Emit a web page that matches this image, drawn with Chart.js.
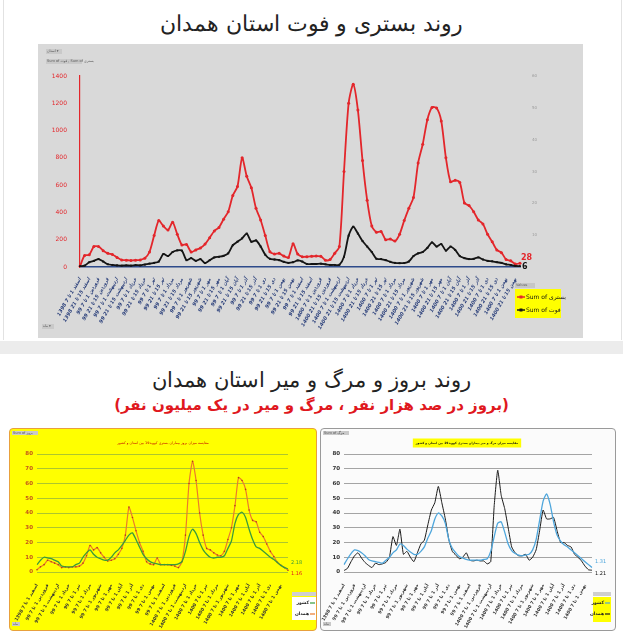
<!DOCTYPE html>
<html><head><meta charset="utf-8">
<script src="https://cdn.jsdelivr.net/npm/chart.js@4.4.1/dist/chart.umd.min.js"></script>
<style>
html,body{margin:0;padding:0;background:#fff;}
body{width:623px;height:640px;position:relative;overflow:hidden;font-family:"DejaVu Sans",sans-serif;}
.t{position:absolute;left:0;width:623px;text-align:center;direction:rtl;white-space:nowrap;line-height:1;}
#t1{top:13px;font-size:22px;color:#222;font-weight:300;}
#t2{top:370px;font-size:21px;color:#222;font-weight:300;}
#t3{top:398px;font-size:15px;color:#e0181e;font-weight:bold;}
#band{position:absolute;left:0;top:341px;width:623px;height:13px;background:#ececec;}
#frame{position:absolute;left:3px;top:0;width:617px;height:340px;border-left:1px solid #e2e2e2;border-right:1px solid #e2e2e2;}
#boxL{position:absolute;left:9px;top:428px;width:308px;height:203px;background:#ffff00;border:1.5px solid #e8a03c;border-radius:4px;box-sizing:border-box;}
#boxR{position:absolute;left:320px;top:428px;width:296px;height:203px;background:#fbfbfb;border:1.5px solid #9a9a9a;border-radius:4px;box-sizing:border-box;}
canvas{position:absolute;display:block;}
#c1{left:38px;top:44px;background:#d9d9d9;}
#c2{left:9px;top:428px;}
#c3{left:320px;top:428px;}
</style>
</head><body>
<div id="frame"></div>
<div class="t" id="t1">روند بستری و فوت استان همدان</div>
<div id="band"></div>
<div class="t" id="t2">روند بروز و مرگ و میر استان همدان</div>
<div class="t" id="t3">(بروز در صد هزار نفر ، مرگ و میر در یک میلیون نفر)</div>
<div id="boxL"></div>
<div id="boxR"></div>
<canvas id="c1" width="545" height="294"></canvas>
<canvas id="c2" width="308" height="203"></canvas>
<canvas id="c3" width="296" height="203"></canvas>
<script>
// ---- tick label parts ----
const monthNames = ['فروردین','اردیبهشت','خرداد','تیر','مرداد','شهریور','مهر','آبان','آذر','دی','بهمن','اسفند'];
const weekRanges = ['1 تا 7','8 تا 14','15 تا 21','22 تا 29'];
const yearNames = {1398:'1398',1399:'99',1400:'1400'};

// ---- top chart: weekly hospitalized (بستری) and deaths (فوت) ----
const hospitalized = [5,85,90,150,150,120,100,92,70,52, 50,48,50,52,65,110,230,340,300,271,
 328,240,162,165,110,125,140,168,215,264, 290,350,405,525,590,800,665,580,430,345,
 230,112,95,100,80,70,170,95,75,76, 78,80,78,50,55,100,150,700,1200,1340,
 1150,780,490,300,255,260,200,205,190,240, 340,430,510,762,900,1080,1170,1165,1070,800,
 625,635,620,470,450,405,345,315,240,185, 125,105,55,45,22,28];
const deaths = [5,10,35,45,58,40,20,15,12,10, 12,10,14,12,18,25,30,40,95,80,
 110,122,120,50,65,45,58,29,50,70, 75,82,100,160,185,210,245,185,195,150,
 90,60,55,50,38,30,35,48,40,22, 22,22,24,20,15,15,16,75,230,295,
 245,190,150,110,60,58,50,38,30,28, 29,40,80,100,110,140,180,150,168,120,
 150,125,80,65,58,60,70,55,45,42, 35,30,20,15,8,6];

// ---- bottom charts: incidence (per 100k) and mortality (per 1M) ----
const incidenceHamedan = [1.5,3.5,5,8,7,6,5,3,3.5,3, 3.5,3.5,4,6,11,18,15,16.5,13,10,
 7.5,8,9,12,16,25,44,37,28,20, 14,7,5.5,5,9.5,5,5,5,4.5,4,
 3,7,25,60,75,62,40,25,16,15, 13,11.5,11,14,22,30,45,64,62,56,
 42,35,34,27,24,19,14,10.5,6.5,4.5, 3,1.16];
const incidenceCountry = [5,8,10,9.5,9,8,7,4,3.5,3.5, 3.5,5,6,10,13,15,12,10,9,8,
 8,10,13,15,18,21.5,25,26.5,22,17, 12,9,7,6,5.5,5,5,5,5,5,
 5.5,7,14,24,29,26,20,15,12,10, 9.5,10,10,11,16,21,33,39,40.5,37,
 29,22,17,16,14,12,10,8.5,6.5,4.5, 3,2.18];
const mortalityHamedan = [1,2.5,7,11,13,9.5,6.5,4.5,3,6, 5,5.5,6.5,10,24,18,29,12,14,10,
 7,13,19,21.6,32,42,47,58,47,36, 22,14,11.5,9,10,13,8,7.5,8,7.5,
 7.5,5.5,7,45,69,52,43,30,17,13, 11,11,12,8,10,15,28,42,36,36,
 37,28,20,20,18,17,12,10,7.5,4, 1.5,1.21];
const mortalityCountry = [5,9,12.5,15,14.5,13,11,8.5,7.5,7, 6.5,6,8,10,13,15,19,18,15.5,13.5,
 12,12,14,17,23,28,36,40,38,33, 22,16,13,10.5,9.5,8.5,8,8,8,8,
 8.5,9,14,24,33,34,27,19,14.5,12.5, 11.5,11,11.5,12,15,22,35,48,53,46,
 34,25,21,18.5,17,15,13,11,9,7, 5,3];
const endLabelsInc = ['2.18','1.16'];
const endLabelsMort = ['1.31','1.21'];

// build week labels
const weekLabels = [];
{ let yr = 1398, m = 11;
  while (weekLabels.length < hospitalized.length) {
    for (const w of weekRanges) { if (weekLabels.length < hospitalized.length) weekLabels.push(yearNames[yr] + ' ' + monthNames[m] + ' ' + w); }
    m++; if (m === 12) { m = 0; yr++; }
  } }
const bottomLabels = incidenceHamedan.map((_, i) => weekLabels[Math.round(i * (weekLabels.length - 1) / (incidenceHamedan.length - 1))]);

const RED = '#e3262b', BLK = '#141414';
const FF = '"DejaVu Sans", sans-serif';

function tag(ctx, x, y, w, h, txt) {
  ctx.fillStyle = '#c9c9c9'; ctx.fillRect(x, y, w, h);
  ctx.fillStyle = '#555'; ctx.font = '3.5px ' + FF; ctx.textAlign = 'left'; ctx.textBaseline = 'middle';
  ctx.fillText(txt, x + 1, y + h / 2);
}

const topDecor = {
  id: 'topDecor',
  afterDraw(chart) {
    const { ctx, scales: { x, y } } = chart;
    const n = hospitalized.length - 1, px = x.getPixelForValue(n);
    ctx.save();
    ctx.font = 'bold 8px ' + FF; ctx.textAlign = 'left'; ctx.textBaseline = 'middle';
    ctx.fillStyle = RED; ctx.fillText(String(hospitalized[n]), px + 1, y.getPixelForValue(hospitalized[n]) - 5);
    ctx.fillStyle = BLK; ctx.fillText(String(deaths[n]), px + 2, y.getPixelForValue(deaths[n]) + 1);
    // pivot field buttons
    tag(ctx, 8, 5, 16, 5, 'استان ▾');
    tag(ctx, 8, 15, 36, 5, 'Sum of فوت , Sum of بستری');
    tag(ctx, 4, 280, 12, 5, 'ماه ▾');
    // legend
    const lx = 477, ly = 245, lw = 46, lh = 29;
    ctx.fillStyle = '#c6c6c6'; ctx.fillRect(lx, ly - 6, 20, 5);
    ctx.fillStyle = '#666'; ctx.font = '3.5px ' + FF; ctx.fillText('Values', lx + 1, ly - 3.5);
    ctx.fillStyle = '#ffff00'; ctx.fillRect(lx, ly, lw, lh);
    const items = chart.data.datasets;
    items.forEach((ds, i) => {
      const yy = ly + 8 + i * 13;
      ctx.strokeStyle = ds.borderColor; ctx.lineWidth = 1.5;
      ctx.beginPath(); ctx.moveTo(lx + 2, yy); ctx.lineTo(lx + 10, yy); ctx.stroke();
      ctx.fillStyle = ds.borderColor; ctx.fillRect(lx + 4.5, yy - 1.5, 3, 3);
      ctx.font = '6px ' + FF; ctx.fillStyle = BLK; ctx.textAlign = 'left';
      ctx.fillText(ds.label, lx + 11, yy);
    });
    ctx.restore();
  }
};

new Chart(document.getElementById('c1'), {
  type: 'line',
  data: { labels: weekLabels, datasets: [
    { label: 'Sum of بستری', data: hospitalized, borderColor: RED, backgroundColor: RED, borderWidth: 1.8,
      pointRadius: 1.5, pointStyle: 'circle', pointBorderWidth: 0, tension: 0.25, order: 1 },
    { label: 'Sum of فوت', data: deaths, borderColor: BLK, backgroundColor: BLK, borderWidth: 1.8,
      pointRadius: 1.4, pointStyle: 'rect', pointBorderWidth: 0, tension: 0.25, order: 0 }
  ]},
  options: {
    responsive: false, animation: false,
    layout: { padding: { top: 32, left: 0, right: 0, bottom: 0 } },
    plugins: { legend: { display: false }, tooltip: { enabled: false } },
    scales: {
      x: { grid: { display: false }, border: { display: true, color: '#2d4a8a', width: 1.5 },
        ticks: { autoSkip: false, minRotation: 60, maxRotation: 60, padding: 2,
          font: { family: FF, size: 5, weight: 'bold', style: 'italic' }, color: '#2a3f7a',
          callback: (v, i) => i % 2 === 0 ? weekLabels[i] : '' },
        afterFit: s => { s.height = 71; } },
      y: { min: 0, max: 1400, ticks: { stepSize: 200, color: RED, font: { family: FF, size: 6 }, padding: 5, callback: v => String(v) },
        grid: { display: false }, border: { color: RED, width: 1.2 }, afterFit: s => { s.width = 42; } },
      y2: { position: 'right', min: 0, max: 60,
        ticks: { stepSize: 10, color: '#9a9a9a', font: { family: FF, size: 4 }, padding: 4, callback: v => v === 0 ? '' : String(v) },
        grid: { display: false }, border: { display: false }, afterFit: s => { s.width = 63; } }
    }
  },
  plugins: [topDecor]
});

function bottomDecor(opt) {
  return {
    id: 'bd' + opt.key,
    afterDraw(chart) {
      const { ctx, scales: { x, y } } = chart;
      const ds = chart.data.datasets;
      const n = ds[0].data.length - 1, px = x.getPixelForValue(n);
      ctx.save();
      // title
      ctx.font = opt.titleFont + ' ' + FF; ctx.textAlign = 'center'; ctx.textBaseline = 'middle';
      const tw = ctx.measureText(opt.title).width;
      if (opt.titleBg) { ctx.fillStyle = opt.titleBg; ctx.fillRect(opt.tx - tw / 2 - 3, opt.ty - 4.5, tw + 6, 9); }
      ctx.fillStyle = opt.titleColor; ctx.fillText(opt.title, opt.tx, opt.ty);
      // end labels
      ctx.font = '5px ' + FF; ctx.textAlign = 'left';
      ctx.fillStyle = ds[0].borderColor; ctx.fillText(opt.ends[0], px + 3, y.getPixelForValue(ds[0].data[n]) - 6);
      ctx.fillStyle = opt.end2Color; ctx.fillText(opt.ends[1], px + 3, y.getPixelForValue(ds[1].data[n]) + 3);
      // tags
      tag(ctx, 3, 3, 26, 4, opt.tagText);
      tag(ctx, 3, 194, 8, 4, 'ماه');
      // legend
      const L = opt.legend;
      ctx.fillStyle = '#cfcfcf'; ctx.fillRect(L.x, L.y - 5, L.w, 4);
      ctx.fillStyle = L.bg; ctx.fillRect(L.x, L.y, L.w, L.h);
      ds.forEach((d, i) => {
        const yy = L.y + 6 + i * 11;
        ctx.font = 'bold 4.5px ' + FF; ctx.fillStyle = '#222'; ctx.textAlign = 'right';
        ctx.fillText(d.label, L.x + L.w - 7, yy);
        ctx.strokeStyle = d.borderColor; ctx.lineWidth = 1.2;
        ctx.beginPath(); ctx.moveTo(L.x + L.w - 6, yy); ctx.lineTo(L.x + L.w - 1, yy); ctx.stroke();
      });
      ctx.restore();
    }
  };
}

function bottomOptions(gridColor, tickColor, rightPad) {
  return {
    responsive: false, animation: false,
    layout: { padding: { top: 26, right: rightPad, left: 0, bottom: 0 } },
    plugins: { legend: { display: false }, tooltip: { enabled: false } },
    scales: {
      x: { grid: { display: false }, border: { display: false },
        ticks: { autoSkip: false, minRotation: 60, maxRotation: 60, padding: 3,
          font: { family: FF, size: 4.5, weight: 'bold' }, color: '#333',
          callback: (v, i) => i % 3 === 0 ? bottomLabels[i] : '' },
        afterFit: s => { s.height = 59; } },
      y: { min: 0, max: 80, ticks: { stepSize: 10, color: tickColor, font: { family: FF, size: 5.5, weight: 'bold' }, padding: 4 },
        grid: { color: gridColor, lineWidth: 0.8, drawTicks: false }, border: { display: false } }
    }
  };
}

const optL = bottomOptions('#98b83a', '#c4561a', 29);
optL.scales.y.afterFit = s => { s.width = 28; };
new Chart(document.getElementById('c2'), {
  type: 'line',
  data: { labels: bottomLabels, datasets: [
    { label: 'کشور', data: incidenceCountry, borderColor: '#3a9b3a', borderWidth: 1.3, pointRadius: 0, tension: 0.2 },
    { label: 'همدان', data: incidenceHamedan, borderColor: '#ec7b2a', borderWidth: 1.2, pointRadius: 0.8,
      pointBackgroundColor: '#b5401a', pointBorderWidth: 0, tension: 0.2 }
  ]},
  options: optL,
  plugins: [bottomDecor({ key: 'L', title: 'مقایسه میزان بروز بیماران بستری کووید19 بین استان و کشور',
    titleFont: '3.5px', tx: 154, ty: 15, titleColor: '#c00000', titleBg: null, ends: endLabelsInc, end2Color: '#e0181e',
    tagText: 'Sum of بروز', legend: { x: 283, y: 169, w: 24, h: 23, bg: '#ffffff' } })]
});

const optR = bottomOptions('#8e8e8e', '#333333', 24);
optR.scales.y.afterFit = s => { s.width = 22; };
new Chart(document.getElementById('c3'), {
  type: 'line',
  data: { labels: bottomLabels, datasets: [
    { label: 'کشور', data: mortalityCountry, borderColor: '#4ea6dc', borderWidth: 1.3, pointRadius: 0, tension: 0.2 },
    { label: 'همدان', data: mortalityHamedan, borderColor: '#1b1b1b', borderWidth: 1, pointRadius: 0, tension: 0.15 }
  ]},
  options: optR,
  plugins: [bottomDecor({ key: 'R', title: 'مقایسه میزان مرگ و میر بیماران بستری کووید19 بین استان و کشور',
    titleFont: 'bold 3px', tx: 147, ty: 15, titleColor: '#111', titleBg: '#ffff00', ends: endLabelsMort, end2Color: '#111',
    tagText: 'Sum of مرگ', legend: { x: 273, y: 169, w: 18, h: 25, bg: '#ffff00' } })]
});
</script>
</body></html>
